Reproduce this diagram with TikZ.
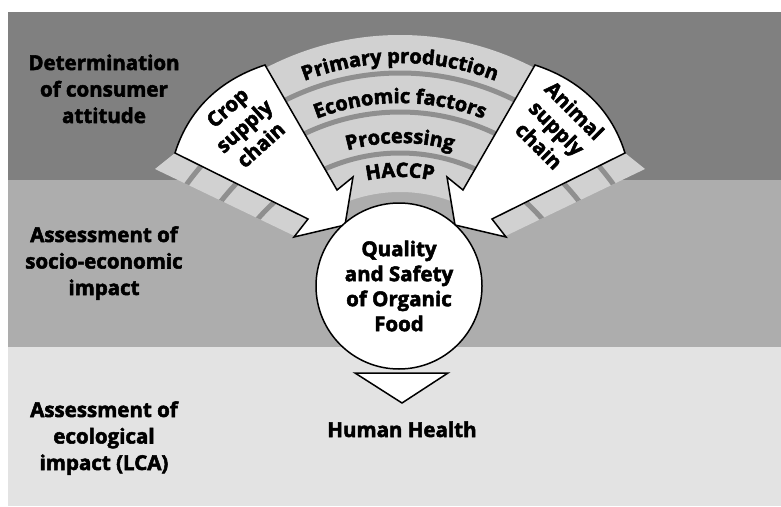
\documentclass[tikz,border=0pt]{standalone}
\usepackage{fontspec}
\setmainfont{Open Sans}[BoldFeatures={FakeBold=2.5}]
\usetikzlibrary{decorations.text}

\definecolor{topgray}{gray}{0.50}
\definecolor{midgray}{gray}{0.68}
\definecolor{lowgray}{gray}{0.89}
\definecolor{fanfill}{gray}{0.82}
\definecolor{fansep}{gray}{0.56}

\newcommand{\lblfont}{\bfseries\fontsize{20.5}{26.5}\selectfont}
\newcommand{\arcfont}{\bfseries\fontsize{20}{24}\selectfont}
\newcommand{\circfont}{\bfseries\fontsize{20.5}{25}\selectfont}

\begin{document}
\begin{tikzpicture}[x=1pt,y=-1pt]

	\tikzset{
		band label/.style={font=\lblfont, align=center, anchor=base},
		white shape/.style={draw=black, fill=white, line width=1.5pt, line join=miter},
		sep line/.style={draw=fansep, line width=5pt},
		arc text/.style={decorate, decoration={text along path, text align=center, text={|\arcfont|#1}}}
	}

	\useasboundingbox (0,0) rectangle (781,506);
	\fill[topgray] (8,12) rectangle (781,180);
	\fill[midgray] (8,180) rectangle (781,347);
	\fill[lowgray] (8,347) rectangle (781,506);

	\coordinate (C) at (400,358);

	\begin{scope}
		\clip (155,169) -- (175,153) .. controls (190,105) and (225,78) .. (265,65) -- (265,15) -- (535,15) -- (535,65)
			.. controls (575,78) and (610,105) .. (625,153) -- (645,169) -- (470,253) -- (330,253) -- cycle;
		\fill[fanfill, even odd rule] (C) ellipse[x radius=305, y radius=323] (C) ellipse[x radius=156.7, y radius=166];
		\foreach \r in {285,246,205} {
			\pgfmathsetmacro\rx{0.944*\r}
			\draw[sep line] (C) ellipse[x radius=\rx, y radius=\r];
		}
	\end{scope}

	\path[arc text={Primary production}] ([shift={(C)}]235:278.5 and 295) arc[start angle=235, end angle=305, x radius=278.5, y radius=295];
	\path[arc text={Economic factors}] ([shift={(C)}]230:240.7 and 255) arc[start angle=230, end angle=310, x radius=240.7, y radius=255];
	\path[arc text={Processing}] ([shift={(C)}]230:203 and 215) arc[start angle=230, end angle=310, x radius=203, y radius=215];
	\path[arc text={HACCP}] ([shift={(C)}]230:170.9 and 181) arc[start angle=230, end angle=310, x radius=170.9, y radius=181];

	\draw[white shape] (175,153) .. controls (190,105) and (225,78) .. (265,65) -- (337,190) -- (353,177)
		-- (345,225) -- (294,237) -- (308,219) -- cycle;
	\draw[white shape] (625,153) .. controls (610,105) and (575,78) .. (535,65) -- (463,190) -- (447,177)
		-- (455,225) -- (506,237) -- (492,219) -- cycle;

	\node[font=\circfont, align=center, rotate=42] (crop) at (244,126) {Crop\\supply\\chain};
	\node[font=\circfont, align=center, rotate=-45] (animal) at (557,128) {Animal\\supply\\chain};

	\node[white shape, circle, minimum size=166pt, inner sep=0pt, font=\circfont, align=center] (food) at (399,286)
		{Quality\\and Safety\\of Organic\\Food};
	\draw[white shape] (355,373) -- (448,373) -- (402,403) -- cycle;
	\node[font=\circfont, anchor=base] (health) at (402,437) {Human Health};

	\node[band label] (consumer) at (104,123) {Determination\\of consumer\\attitude};
	\node[band label] (socio) at (104,295) {Assessment of\\socio-economic\\impact};
	\node[band label] (ecol) at (104,470) {Assessment of\\ecological\\impact (LCA)};

\end{tikzpicture}
\end{document}
